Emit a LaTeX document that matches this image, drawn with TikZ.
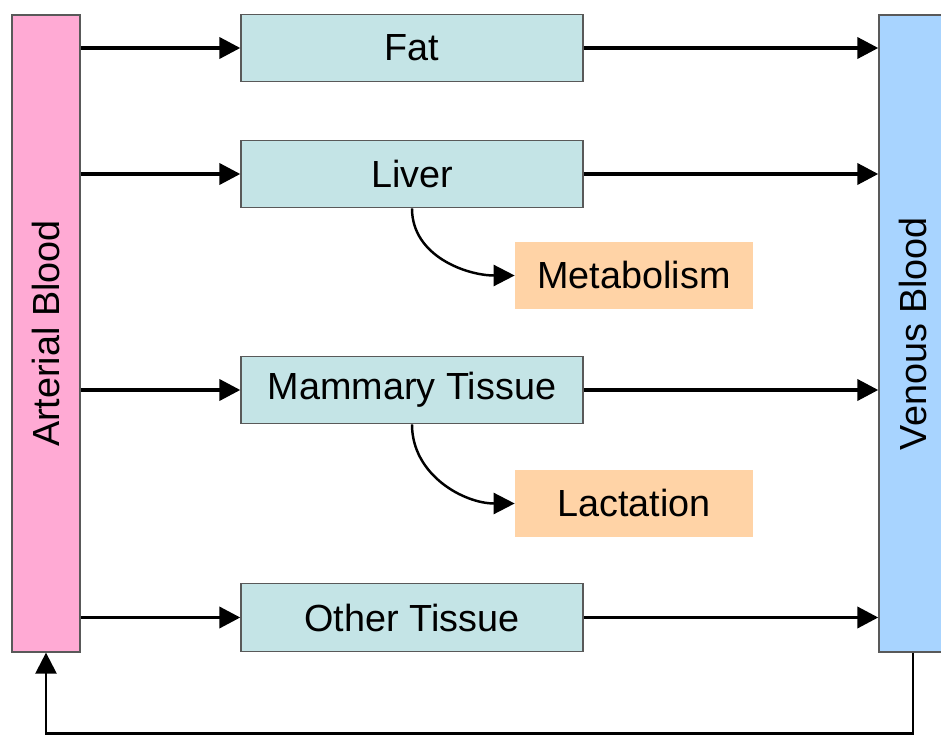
\documentclass[tikz,border=0pt]{standalone}
\usepackage{fontspec}
\setmainfont{Liberation Sans}
\usepackage{xcolor}
\usetikzlibrary{arrows.meta}
\definecolor{artpink}{RGB}{255,170,212}
\definecolor{venblue}{RGB}{168,212,255}
\definecolor{tissuecyan}{RGB}{196,228,230}
\definecolor{fateorange}{RGB}{255,211,166}

\begin{document}
\begin{tikzpicture}[x=0.02cm,y=-0.02cm,>={Triangle[length=0.42cm,width=0.42cm]},
  vessel/.style={draw=black!65,line width=0.8pt,minimum width=1.36cm,minimum height=12.74cm,inner sep=0pt},
  organ/.style={draw=black!65,line width=0.8pt,fill=tissuecyan,minimum width=6.84cm,minimum height=1.35cm},
  fate/.style={fill=fateorange,minimum width=4.76cm,minimum height=1.35cm},
  flow/.style={->,line width=2.2pt},
  thinflow/.style={->,line width=1.4pt},
  font=\fontsize{21.5}{26}\selectfont]
\useasboundingbox (0,0) rectangle (941,736);
\node[vessel,fill=artpink] (art) at (46,333.5) {\rotatebox{90}{Arterial Blood}};
\node[vessel,fill=venblue] (ven) at (913,333.5) {\rotatebox{90}{Venous Blood}};
\node[organ] (fat) at (412,48) {Fat};
\node[organ] (liver) at (412,174) {Liver};
\node[organ] (mammary) at (412,390) {Mammary Tissue};
\node[organ] (other) at (412,617.5) {Other Tissue};
\node[fate] (metab) at (634,275.5) {Metabolism};
\node[fate] (lact) at (634,503.5) {Lactation};
\foreach \o in {fat,liver,mammary,other}{
  \draw[flow] (art.east |- \o) -- (\o);
  \draw[flow] (\o) -- (ven.west |- \o);
}
\draw[thinflow] (liver.south) to[out=-90,in=180] (metab.west);
\draw[thinflow] (mammary.south) to[out=-90,in=180] (lact.west);
\draw[thinflow] (ven.south) -- ++(0,81) -| (art.south);
\end{tikzpicture}
\end{document}
